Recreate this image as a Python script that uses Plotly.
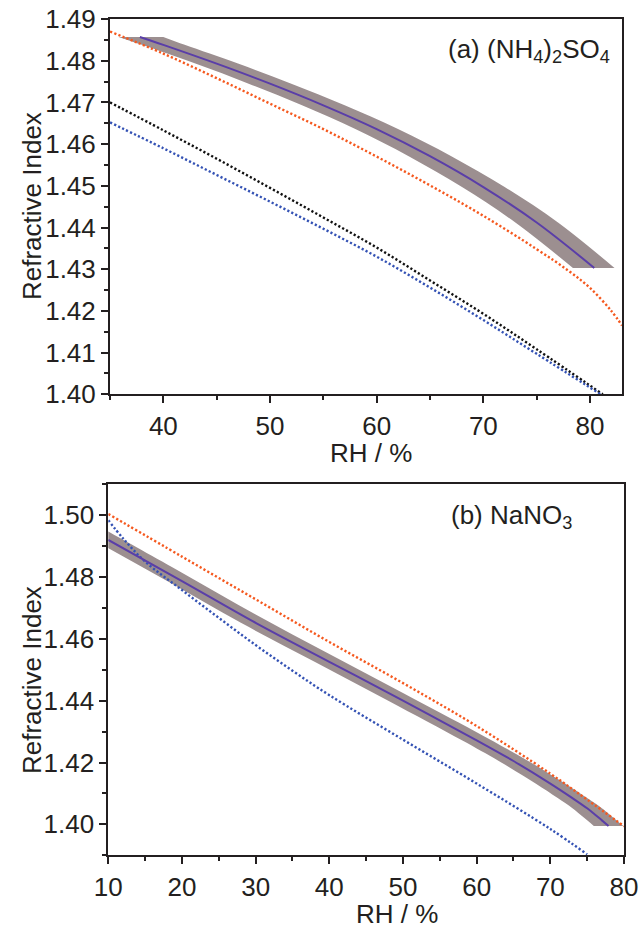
import plotly.graph_objects as go

# ---------------- Panel (a): (NH4)2SO4 ----------------
a_meas_rh = [37.8, 40, 45, 50, 55, 60, 65, 70, 75, 80.4]
a_meas_n = [1.4857, 1.4838, 1.4793, 1.4745, 1.4693, 1.4636, 1.4571, 1.4497, 1.4412, 1.4303]
a_band_hi_rh = [40.0, 42, 47, 52, 57, 62, 67, 72, 77, 82.3]
a_band_hi_n = [1.4857, 1.4838, 1.4793, 1.4745, 1.4693, 1.4636, 1.4571, 1.4497, 1.4412, 1.4303]
a_band_lo_rh = [35.8, 38, 43, 48, 53, 58, 63, 68, 73, 78.4]
a_band_lo_n = [1.4857, 1.4838, 1.4793, 1.4745, 1.4693, 1.4636, 1.4571, 1.4497, 1.4412, 1.4303]
a_orange_rh = [35, 40, 45, 50, 55, 60, 65, 70, 75, 78, 80, 82, 83]
a_orange_n = [1.4870, 1.4817, 1.4758, 1.4697, 1.4636, 1.4570, 1.4501, 1.4428, 1.4348, 1.4296, 1.4255, 1.4200, 1.4165]
a_black_rh = [35, 40, 45, 50, 55, 60, 65, 70, 75, 81.2]
a_black_n = [1.4700, 1.4633, 1.4565, 1.4495, 1.4424, 1.4352, 1.4273, 1.4193, 1.4108, 1.4000]
a_blue_rh = [35, 40, 45, 50, 55, 60, 65, 70, 75, 81]
a_blue_n = [1.4652, 1.4590, 1.4526, 1.4462, 1.4397, 1.4330, 1.4256, 1.4178, 1.4097, 1.4000]

# ---------------- Panel (b): NaNO3 ----------------
b_meas_rh = [10, 20, 30, 40, 50, 60, 65, 70, 73, 75, 76, 77, 77.9]
b_meas_n = [1.4920, 1.4787, 1.4652, 1.4526, 1.4400, 1.4272, 1.4205, 1.4132, 1.4085, 1.4052, 1.4033, 1.4013, 1.3995]
b_band_hi_rh = [8, 10, 20, 30, 40, 50, 60, 67, 72, 75, 77, 78, 79.9]
b_band_hi_n = [1.4974, 1.4947, 1.4814, 1.4679, 1.4551, 1.4425, 1.4298, 1.4205, 1.4132, 1.4085, 1.4052, 1.4033, 1.3995]
b_band_lo_rh = [8, 18, 28, 38, 48, 58, 63, 68, 71, 73, 74, 75, 75.9]
b_band_lo_n = [1.4920, 1.4787, 1.4652, 1.4526, 1.4400, 1.4272, 1.4205, 1.4132, 1.4085, 1.4052, 1.4033, 1.4013, 1.3995]
b_orange_rh = [10, 20, 30, 40, 50, 60, 70, 75, 80]
b_orange_n = [1.5004, 1.4866, 1.4728, 1.4590, 1.4457, 1.4318, 1.4164, 1.4080, 1.3994]
b_blue_rh = [10, 12, 15, 20, 25, 30, 35, 40, 50, 60, 70, 75]
b_blue_n = [1.4984, 1.4925, 1.4850, 1.4758, 1.4668, 1.4580, 1.4497, 1.4418, 1.4274, 1.4132, 1.3985, 1.3903]

x_ticks_a = [40, 50, 60, 70, 80]
y_ticks_a = [1.40, 1.41, 1.42, 1.43, 1.44, 1.45, 1.46, 1.47, 1.48, 1.49]
x_ticks_b = [10, 20, 30, 40, 50, 60, 70, 80]
y_ticks_b = [1.40, 1.42, 1.44, 1.46, 1.48, 1.50]

BAND = "#9c8f90"
PURPLE = "#5a3ea8"
ORANGE = "#f5591f"
BLUE = "#3452b4"
BLACK = "#111111"
TXT = "#231f20"
FONT = "Arial, Liberation Sans, sans-serif"
DOT = "2.2px,2.2px"

fig = go.Figure()


def add_panel(xa, ya, hi_rh, hi_n, lo_rh, lo_n, meas_rh, meas_n, dotted):
    # band: lower (left) edge, then upper (right) edge filled to it
    fig.add_trace(go.Scatter(
        x=lo_rh, y=lo_n, mode="lines", line=dict(width=0, color=BAND, shape="spline"),
        xaxis=xa, yaxis=ya, showlegend=False, hoverinfo="skip"))
    fig.add_trace(go.Scatter(
        x=hi_rh, y=hi_n, mode="lines", fill="tonexty", fillcolor=BAND,
        line=dict(width=0, color=BAND, shape="spline"),
        xaxis=xa, yaxis=ya, showlegend=False, hoverinfo="skip"))
    for rh, n, col in dotted:
        fig.add_trace(go.Scatter(
            x=rh, y=n, mode="lines", line=dict(color=col, width=2.4, dash=DOT, shape="spline"),
            xaxis=xa, yaxis=ya, showlegend=False))
    fig.add_trace(go.Scatter(
        x=meas_rh, y=meas_n, mode="lines", line=dict(color=PURPLE, width=2, shape="spline"),
        xaxis=xa, yaxis=ya, showlegend=False))


add_panel("x", "y", a_band_hi_rh, a_band_hi_n, a_band_lo_rh, a_band_lo_n, a_meas_rh, a_meas_n,
          [(a_orange_rh, a_orange_n, ORANGE), (a_black_rh, a_black_n, BLACK), (a_blue_rh, a_blue_n, BLUE)])
add_panel("x2", "y2", b_band_hi_rh, b_band_hi_n, b_band_lo_rh, b_band_lo_n, b_meas_rh, b_meas_n,
          [(b_orange_rh, b_orange_n, ORANGE), (b_blue_rh, b_blue_n, BLUE)])

W, H = 642, 928

axis_common = dict(
    showline=True, linecolor=TXT, linewidth=2, mirror=True,
    ticks="outside", ticklen=7, tickwidth=2, tickcolor=TXT,
    showgrid=False, zeroline=False, automargin=False,
    tickfont=dict(family=FONT, size=26, color=TXT),
)
minor_common = dict(ticks="outside", ticklen=4, tickwidth=2, tickcolor=TXT, showgrid=False)

fig.update_layout(
    width=W, height=H,
    margin=dict(l=0, r=0, t=0, b=0),
    paper_bgcolor="white", plot_bgcolor="white",
    showlegend=False,
    xaxis=dict(axis_common, domain=[110 / W, 622 / W], range=[35, 83],
               tickvals=x_ticks_a, anchor="y",
               minor=dict(minor_common, dtick=5, tick0=0)),
    yaxis=dict(axis_common, domain=[1 - 394.3 / H, 1 - 19 / H], range=[1.40, 1.49],
               tickvals=y_ticks_a, tickformat=".2f", anchor="x",
               minor=dict(minor_common, dtick=0.005, tick0=1.40)),
    xaxis2=dict(axis_common, domain=[108.3 / W, 624 / W], range=[10, 80],
                tickvals=x_ticks_b, anchor="y2",
                minor=dict(minor_common, dtick=5, tick0=0)),
    yaxis2=dict(axis_common, domain=[1 - 855.3 / H, 1 - 484.3 / H], range=[1.39, 1.51],
                tickvals=y_ticks_b, tickformat=".2f", anchor="x2",
                minor=dict(minor_common, dtick=0.01, tick0=1.40)),
)


def ann(text, x, y, size=26, angle=0, xanchor="center"):
    fig.add_annotation(text=text, x=x / W, y=1 - y / H, xref="paper", yref="paper",
                       showarrow=False, textangle=angle, xanchor=xanchor, yanchor="middle",
                       font=dict(family=FONT, size=size, color=TXT))


ann("Refractive Index", 32, 206, angle=-90)
ann("Refractive Index", 32, 680, angle=-90)
ann("RH / %", 371, 453)
ann("RH / %", 397, 914)
ann("(a) (NH<sub>4</sub>)<sub>2</sub>SO<sub>4</sub>", 612, 50, xanchor="right")
ann("(b) NaNO<sub>3</sub>", 574, 516, xanchor="right")

fig.write_html("out.html", config={"displayModeBar": False},
               post_script="document.body.style.margin='0';document.body.style.overflow='hidden';")
